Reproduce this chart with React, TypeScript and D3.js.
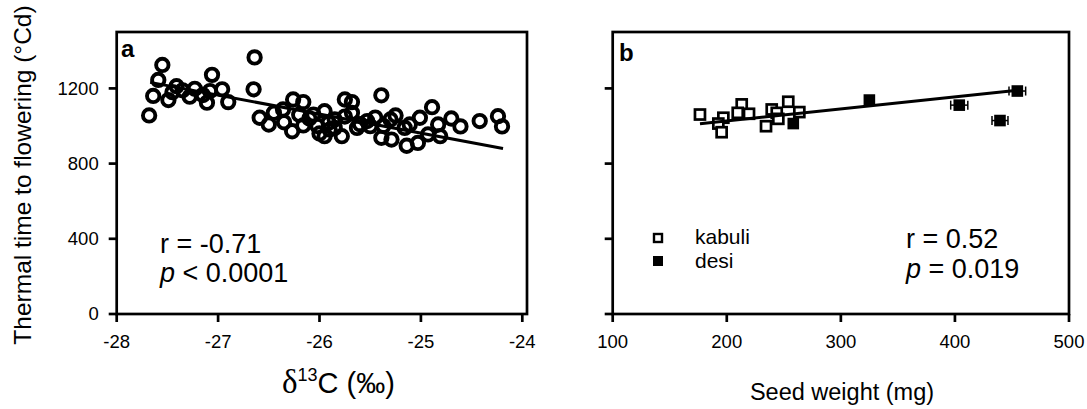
import React from "react";
import * as d3 from "d3";

// ---------- data ----------
const deltaC13 = [
  -27.68, -27.55, -27.59, -27.64, -27.49, -27.41, -27.45, -27.35, -27.28, -27.23,
  -27.11, -27.06, -27.08, -26.96, -26.9, -27.15, -26.64, -26.65, -26.59, -26.5,
  -26.45, -26.36, -26.27, -26.26, -26.16, -26.16, -26.06, -26.1, -25.95, -25.91,
  -25.95, -25.9, -26.02, -25.75, -25.68, -25.68, -25.78, -25.85, -25.63, -25.53,
  -25.5, -25.39, -25.39, -25.37, -25.3, -25.25, -25.16, -25.14, -25.03, -25.11,
  -25.01, -24.89, -24.93, -24.83, -24.81, -24.7, -24.61, -24.42, -24.24, -24.2,
  -25.29, -25.75, -25.6, -26.2, -26.35, -25.45, -25.85, -26.0,
];
const thermalTimeA = [
  1056, 1325, 1245, 1160, 1138, 1212, 1180, 1190, 1156, 1198,
  1124, 1272, 1186, 1195, 1127, 1165, 1365, 1195, 1044, 1008,
  1070, 1088, 972, 1141, 1127, 1003, 1061, 1040, 1079, 1017,
  946, 981, 1000, 1141, 1127, 1070, 946, 990, 990, 1026,
  999, 1163, 937, 1000, 1035, 1056, 990, 895, 910, 1008,
  1044, 1100, 955, 1008, 946, 1040, 998, 1026, 1052, 998,
  928, 1050, 1010, 1060, 1020, 1045, 1035, 960,
];
const fitAX = [-27.67, -24.19];
const fitAY = [1232, 880];

const kabuliSeed = [176.5, 197, 192.6, 195.5, 213.1, 209.6, 219.5, 234.4, 239.4, 243.8, 245.2, 253.9, 263.6];
const kabuliTT = [1061, 1044, 1013, 967, 1115, 1070, 1065, 999, 1088, 1070, 1038, 1129, 1074];
const desiSeed = [258.3, 325, 403.8, 439.5, 454.7];
const desiTT = [1013, 1138, 1111, 1029, 1186];
const desiErr = [0, 0, 7.5, 7, 7.3];
const fitBX = [176.5, 455];
const fitBY = [1012, 1190];

const yTicks = [0, 400, 800, 1200];
const xTicksA = [-28, -27, -26, -25, -24];
const xTicksB = [100, 200, 300, 400, 500];

// ---------- layout ----------
const W = 1087;
const H = 409;
const TOP = 32;
const BOTTOM = 314;
const A_L = 116.7;
const A_R = 527;
const B_L = 612.7;
const B_R = 1069;
const SANS = "'Liberation Sans', Arial, sans-serif";
const SERIF = "'Liberation Serif', 'Times New Roman', serif";
const AXW = 2.7;

const y = d3.scaleLinear().domain([0, 1500]).range([BOTTOM, TOP]);
const xA = d3.scaleLinear().domain([-28, -24]).range([116.7, 522.3]);
const xB = d3.scaleLinear().domain([100, 500]).range([612.7, 1069]);

function Frame({ l, r }: { l: number; r: number }) {
  return (
    <g fill="none" stroke="#000" strokeWidth={AXW}>
      <rect x={l} y={TOP} width={r - l} height={BOTTOM - TOP} />
    </g>
  );
}

function YTicks({ l, labels }: { l: number; labels: boolean }) {
  return (
    <g>
      {yTicks.map((t) => (
        <g key={t}>
          <line x1={l - 8} x2={l} y1={y(t)} y2={y(t)} stroke="#000" strokeWidth={AXW} />
          {labels && (
            <text x={l - 18} y={y(t)} dy="0.35em" textAnchor="end" fontSize={18.5} fontFamily={SANS}>
              {t}
            </text>
          )}
        </g>
      ))}
    </g>
  );
}

function XTicks({ ticks, sc, fmt }: { ticks: number[]; sc: d3.ScaleLinear<number, number>; fmt: (v: number) => string }) {
  return (
    <g>
      {ticks.map((t) => (
        <g key={t}>
          <line x1={sc(t)} x2={sc(t)} y1={BOTTOM} y2={BOTTOM + 8} stroke="#000" strokeWidth={AXW} />
          <text x={sc(t)} y={BOTTOM + 34} textAnchor="middle" fontSize={18.5} fontFamily={SANS}>
            {fmt(t)}
          </text>
        </g>
      ))}
    </g>
  );
}

export default function App() {
  const line = d3.line<[number, number]>();
  const fitA = line(fitAX.map((v, i) => [xA(v), y(fitAY[i])] as [number, number])) || "";
  const fitB = line(fitBX.map((v, i) => [xB(v), y(fitBY[i])] as [number, number])) || "";
  const sq = 10;
  return (
    <svg width={W} height={H} style={{ position: "absolute", left: 0, top: 0, background: "#fff" }}>
      <rect width={W} height={H} fill="#fff" />
      {/* y title */}
      <text
        transform={`translate(31,175) rotate(-90)`}
        textAnchor="middle"
        fontSize={24.5}
        fontFamily={SANS}
      >
        Thermal time to flowering (°Cd)
      </text>

      {/* panel a */}
      <g>
        {deltaC13.map((v, i) => (
          <circle key={i} cx={xA(v)} cy={y(thermalTimeA[i])} r={6.2} fill="none" stroke="#000" strokeWidth={3.9} />
        ))}
        <path d={fitA} stroke="#000" strokeWidth={3} fill="none" />
        <Frame l={A_L} r={A_R} />
        <YTicks l={A_L} labels={true} />
        <XTicks ticks={xTicksA} sc={xA} fmt={(v) => String(v)} />
        <text x={121} y={57} fontSize={24} fontWeight="bold" fontFamily={SANS}>a</text>
        <text x={160} y={253} fontSize={27} fontFamily={SANS}>r = -0.71</text>
        <text x={160} y={282} fontSize={27} fontFamily={SANS}>
          <tspan fontStyle="italic">p</tspan> &lt; 0.0001
        </text>
        <text x={282} y={393} fontFamily={SANS} fontSize={29}>
          <tspan fontFamily={SERIF} fontSize={33}>δ</tspan>
          <tspan fontSize={18} dy={-12}>13</tspan>
          <tspan dy={12}>C (‰)</tspan>
        </text>
      </g>

      {/* panel b */}
      <g>
        {kabuliSeed.map((v, i) => (
          <rect
            key={i}
            x={xB(v) - sq / 2}
            y={y(kabuliTT[i]) - sq / 2}
            width={sq}
            height={sq}
            fill="#fff"
            stroke="#000"
            strokeWidth={2.7}
          />
        ))}
        {desiSeed.map((v, i) =>
          desiErr[i] > 0 ? (
            <g key={"e" + i} stroke="#000" strokeWidth={1.5}>
              <line x1={xB(v - desiErr[i])} x2={xB(v + desiErr[i])} y1={y(desiTT[i])} y2={y(desiTT[i])} />
              <line x1={xB(v - desiErr[i])} x2={xB(v - desiErr[i])} y1={y(desiTT[i]) - 4.5} y2={y(desiTT[i]) + 4.5} />
              <line x1={xB(v + desiErr[i])} x2={xB(v + desiErr[i])} y1={y(desiTT[i]) - 4.5} y2={y(desiTT[i]) + 4.5} />
            </g>
          ) : null
        )}
        <path d={fitB} stroke="#000" strokeWidth={3} fill="none" />
        {desiSeed.map((v, i) => (
          <rect
            key={i}
            x={xB(v) - 5.8}
            y={y(desiTT[i]) - 5.8}
            width={11.6}
            height={11.6}
            fill="#000"
          />
        ))}
        <Frame l={B_L} r={B_R} />
        <YTicks l={B_L} labels={false} />
        <XTicks ticks={xTicksB} sc={xB} fmt={(v) => String(v)} />
        <text x={619} y={61} fontSize={24} fontWeight="bold" fontFamily={SANS}>b</text>
        <rect x={654} y={234} width={8} height={8} fill="#fff" stroke="#000" strokeWidth={2.4} />
        <rect x={653} y={256} width={10} height={10} fill="#000" />
        <text x={695} y={244} fontSize={21} fontFamily={SANS}>kabuli</text>
        <text x={695} y={268} fontSize={21} fontFamily={SANS}>desi</text>
        <text x={906} y={248} fontSize={27} fontFamily={SANS}>r = 0.52</text>
        <text x={906} y={278} fontSize={27} fontFamily={SANS}>
          <tspan fontStyle="italic">p</tspan> = 0.019
        </text>
        <text x={842} y={400} textAnchor="middle" fontSize={23.5} fontFamily={SANS}>Seed weight (mg)</text>
      </g>
    </svg>
  );
}
